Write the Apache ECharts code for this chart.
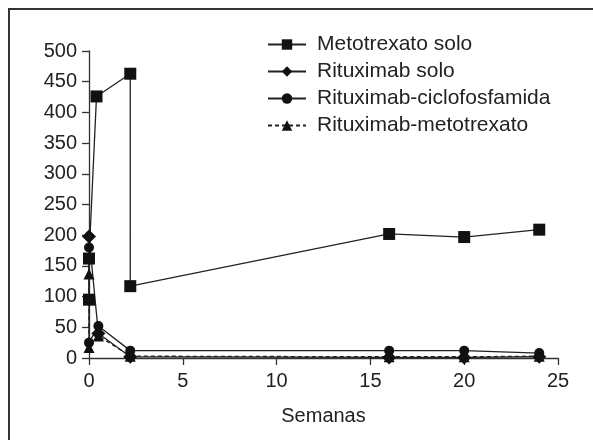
<!DOCTYPE html>
<html><head><meta charset="utf-8">
<script src="https://cdn.jsdelivr.net/npm/echarts@6/dist/echarts.min.js"></script>
<style>html,body{margin:0;padding:0;background:#fff}#c{width:593px;height:440px}</style>
</head><body><div id="c"></div>
<script>
var seriesNames = ['Metotrexato solo', 'Rituximab solo', 'Rituximab-ciclofosfamida', 'Rituximab-metotrexato'];
var xTicks = [0, 5, 10, 15, 20, 25];
var yTicks = [0, 50, 100, 150, 200, 250, 300, 350, 400, 450, 500];
var metotrexatoWeeks = [0, 0, 0.4, 2.2, 2.2, 16, 20, 24];
var metotrexatoVals  = [95, 162, 426, 463, 117, 202, 197, 209];
var rituxSoloWeeks = [0, 0.5, 2.2, 16, 20, 24];
var rituxSoloVals  = [198, 40, 2, 1, 1, 2];
var rituxCicloWeeks = [0, 0, 0.5, 2.2, 16, 20, 24];
var rituxCicloVals  = [180, 25, 52, 12, 12, 12, 8];
var rituxMtxWeeks = [0, 0, 0.5, 2.2, 16, 20, 24];
var rituxMtxVals  = [137, 17, 36, 3, 2, 2, 3];

function pairs(xs, ys){ return xs.map(function(x,i){return [x, ys[i]];}); }
var FONT = 'Liberation Sans, Arial, sans-serif';
var chart = echarts.init(document.getElementById('c'), null, {renderer:'canvas'});
function mk(name, data, symbol, size, type){
  return {name:name, type:'line', data:data, symbol:symbol, symbolSize:size,
    showAllSymbol:true, animation:false,
    itemStyle:{color:'#111', borderWidth:0},
    lineStyle:{color:'#222', width:1.3, type:type||'solid'}};
}
chart.setOption({
  animation:false,
  backgroundColor:'#fff',
  graphic:[{type:'rect', shape:{x:9, y:9, width:700, height:600}, style:{fill:'none', stroke:'#333', lineWidth:2}, silent:true}],
  legend:{
    orient:'vertical', left:262, top:29, itemWidth:38, itemHeight:13, itemGap:6,
    textStyle:{fontFamily:FONT, fontSize:21, lineHeight:21, color:'#222', padding:[0,0,0,6]},
    data:seriesNames
  },
  grid:{left:89, right:35, top:51, bottom:82, containLabel:false},
  xAxis:{type:'value', min:0, max:25, interval:5,
    name:'Semanas', nameLocation:'middle', nameGap:48,
    nameTextStyle:{fontFamily:FONT, fontSize:20, color:'#222'},
    axisLine:{onZero:false, lineStyle:{color:'#333', width:1.3}},
    axisTick:{length:7, lineStyle:{color:'#333', width:1.3}},
    axisLabel:{margin:13, fontFamily:FONT, fontSize:20, color:'#222',
      formatter:function(v){return xTicks.indexOf(v)>=0 ? String(v) : '';}},
    splitLine:{show:false}},
  yAxis:{type:'value', min:0, max:500, interval:50,
    axisLine:{show:true, lineStyle:{color:'#333', width:1.3}},
    axisTick:{show:true, length:7, lineStyle:{color:'#333', width:1.3}},
    axisLabel:{margin:12, fontFamily:FONT, fontSize:20, color:'#222',
      formatter:function(v){return yTicks.indexOf(v)>=0 ? String(v) : '';}},
    splitLine:{show:false}},
  series:[
    mk(seriesNames[0], pairs(metotrexatoWeeks, metotrexatoVals), 'rect', 12),
    mk(seriesNames[1], pairs(rituxSoloWeeks, rituxSoloVals), 'diamond', 14),
    mk(seriesNames[2], pairs(rituxCicloWeeks, rituxCicloVals), 'circle', 10),
    mk(seriesNames[3], pairs(rituxMtxWeeks, rituxMtxVals), 'triangle', 11, [4,3])
  ]
});
</script></body></html>
